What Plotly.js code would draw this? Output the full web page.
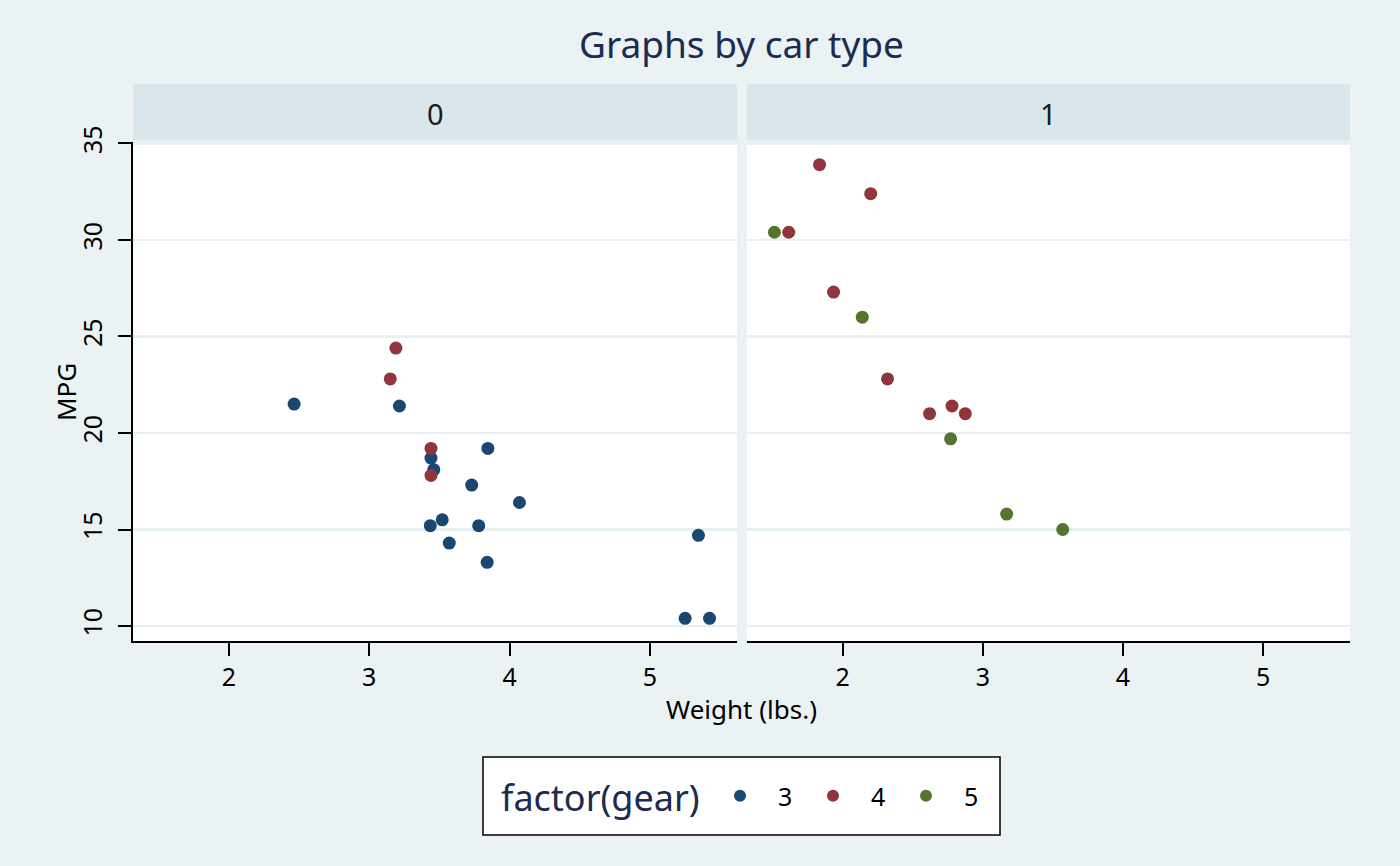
<!DOCTYPE html>
<html>
<head>
<meta charset="utf-8">
<script src="https://cdn.plot.ly/plotly-3.0.1.min.js"></script>
<style>
  html, body { margin: 0; padding: 0; background: #eaf2f3; }
  #chart { width: 1400px; height: 866px; }
</style>
</head>
<body>
<div id="chart"></div>
<script>
/* ── mtcars: weight vs mpg, faceted by am, coloured by gear ── */

const wt   = [2.620, 2.875, 2.320, 3.215, 3.440, 3.460, 3.570, 3.190, 3.150, 3.440, 3.440,
              4.070, 3.730, 3.780, 5.250, 5.424, 5.345, 2.200, 1.615, 1.835, 2.465, 3.520,
              3.435, 3.840, 3.845, 1.935, 2.140, 1.513, 3.170, 2.770, 3.570, 2.780];
const mpg  = [21.0, 21.0, 22.8, 21.4, 18.7, 18.1, 14.3, 24.4, 22.8, 19.2, 17.8,
              16.4, 17.3, 15.2, 10.4, 10.4, 14.7, 32.4, 30.4, 33.9, 21.5, 15.5,
              15.2, 13.3, 19.2, 27.3, 26.0, 30.4, 15.8, 19.7, 15.0, 21.4];
const am   = [1, 1, 1, 0, 0, 0, 0, 0, 0, 0, 0,
              0, 0, 0, 0, 0, 0, 1, 1, 1, 0, 0,
              0, 0, 0, 1, 1, 1, 1, 1, 1, 1];
const gear = [4, 4, 4, 3, 3, 3, 3, 4, 4, 4, 4,
              3, 3, 3, 3, 3, 3, 4, 4, 4, 3, 3,
              3, 3, 3, 4, 5, 5, 5, 5, 5, 4];

const facets      = [0, 1];
const gearLevels  = [3, 4, 5];
const gearColors  = ["#1a476f", "#90353b", "#55752f"];
const yTicks      = [10, 15, 20, 25, 30, 35];
const xTicks      = [2, 3, 4, 5];

const BG     = "#eaf2f3";
const STRIP  = "#d9e6eb";
const NAVY   = "#1c2b50";
const FONT   = "Noto Sans, Open Sans, sans-serif";

const W = 1400, H = 866;
const px = v => v / W;
const py = v => 1 - v / H;

/* ── ranges with 5% expansion like ggplot ── */
const xMin = Math.min(...wt), xMax = Math.max(...wt);
const yMin = Math.min(...mpg), yMax = Math.max(...mpg);
const xPad = (xMax - xMin) * 0.05, yPad = (yMax - yMin) * 0.05;
const xRange = [xMin - xPad, xMax + xPad];
const yRange = [yMin - yPad, yMax + yPad];

/* ── traces: one per facet × gear ── */
const traces = [];
const seen = {};
facets.forEach((f, fi) => {
  gearLevels.forEach((g, gi) => {
    const idx = wt.map((_, i) => i).filter(i => am[i] === f && gear[i] === g);
    if (!idx.length) return;
    traces.push({
      type: "scatter", mode: "markers",
      x: idx.map(i => wt[i]), y: idx.map(i => mpg[i]),
      xaxis: fi === 0 ? "x" : "x2", yaxis: fi === 0 ? "y" : "y2",
      name: String(g), legendgroup: String(g), legendrank: gi + 1,
      showlegend: !seen[g],
      marker: { color: gearColors[gi], size: 13 },
      hoverinfo: "x+y",
    });
    seen[g] = true;
  });
});

/* ── panel geometry (px) ── */
const panels = [[133, 737], [747, 1350]];
const plotTop = 142, plotBot = 641;
const stripTop = 84, stripBot = 140;

const shapes = [];
const annotations = [];

panels.forEach((p, i) => {
  shapes.push({
    type: "rect", xref: "paper", yref: "paper",
    x0: px(p[0]), x1: px(p[1]), y0: py(stripBot), y1: py(stripTop),
    fillcolor: STRIP, line: { width: 0 }, layer: "below",
  });
  annotations.push({
    xref: "paper", yref: "paper",
    x: px((p[0] + p[1]) / 2), y: py(113),
    text: String(facets[i]), showarrow: false,
    font: { size: 29, color: "#1a1a1a" },
    xanchor: "center", yanchor: "middle",
  });
});

/* legend frame and its title */
shapes.push({
  type: "rect", xref: "paper", yref: "paper",
  x0: px(483), x1: px(1000), y0: py(835), y1: py(757),
  fillcolor: "#fff", line: { color: "#000", width: 1.5 }, layer: "below",
});

annotations.push(
  { xref: "paper", yref: "paper", x: px(741), y: py(44),
    text: "Graphs by car type", showarrow: false,
    font: { size: 37, color: NAVY }, xanchor: "center", yanchor: "middle" },
  { xref: "paper", yref: "paper", x: px(741), y: py(709),
    text: "Weight (lbs.)", showarrow: false,
    font: { size: 26, color: "#000" }, xanchor: "center", yanchor: "middle" },
  { xref: "paper", yref: "paper", x: px(66), y: py(392),
    text: "MPG", showarrow: false, textangle: -90,
    font: { size: 26, color: "#000" }, xanchor: "center", yanchor: "middle" },
  { xref: "paper", yref: "paper", x: px(499), y: py(797),
    text: "factor(gear)", showarrow: false,
    font: { size: 36, color: NAVY }, xanchor: "left", yanchor: "middle" },
);

const xAxisBase = {
  range: xRange, tickvals: xTicks, ticktext: xTicks.map(String),
  showgrid: false, zeroline: false,
  showline: true, linecolor: "#000", linewidth: 2,
  ticks: "outside", ticklen: 13, tickwidth: 2, tickcolor: "#000",
  tickfont: { size: 25, color: "#000" },
  automargin: false, fixedrange: true,
};
const yAxisBase = {
  range: yRange, tickvals: yTicks,
  showgrid: true, gridcolor: "#e6eff1", gridwidth: 2.5,
  zeroline: false, automargin: false, fixedrange: true,
  domain: [py(plotBot), py(plotTop)],
};

const layout = {
  width: W, height: H,
  paper_bgcolor: BG, plot_bgcolor: "#fff",
  font: { family: FONT, color: "#000" },
  margin: { l: 0, r: 0, t: 0, b: 0 },
  showlegend: true,
  xaxis:  { ...xAxisBase, domain: [px(panels[0][0]), px(panels[0][1])], anchor: "y" },
  xaxis2: { ...xAxisBase, domain: [px(panels[1][0]), px(panels[1][1])], anchor: "y2" },
  yaxis:  { ...yAxisBase, anchor: "x",
            showline: true, linecolor: "#000", linewidth: 2,
            ticks: "outside", ticklen: 13, tickwidth: 2, tickcolor: "#000",
            tickangle: -90, ticklabelstandoff: 6,
            tickfont: { size: 25, color: "#000" } },
  yaxis2: { ...yAxisBase, anchor: "x2", matches: "y",
            showline: false, ticks: "", showticklabels: false },
  shapes, annotations,
  legend: {
    orientation: "h", x: px(702), y: py(796), xanchor: "left", yanchor: "middle",
    bgcolor: "rgba(0,0,0,0)", borderwidth: 0,
    font: { size: 25, color: "#000" },
    itemwidth: 66, entrywidth: 12, entrywidthmode: "pixels",
    itemsizing: "constant", traceorder: "normal",
  },
};

Plotly.newPlot("chart", traces, layout, { displayModeBar: false, staticPlot: true });
</script>
</body>
</html>
